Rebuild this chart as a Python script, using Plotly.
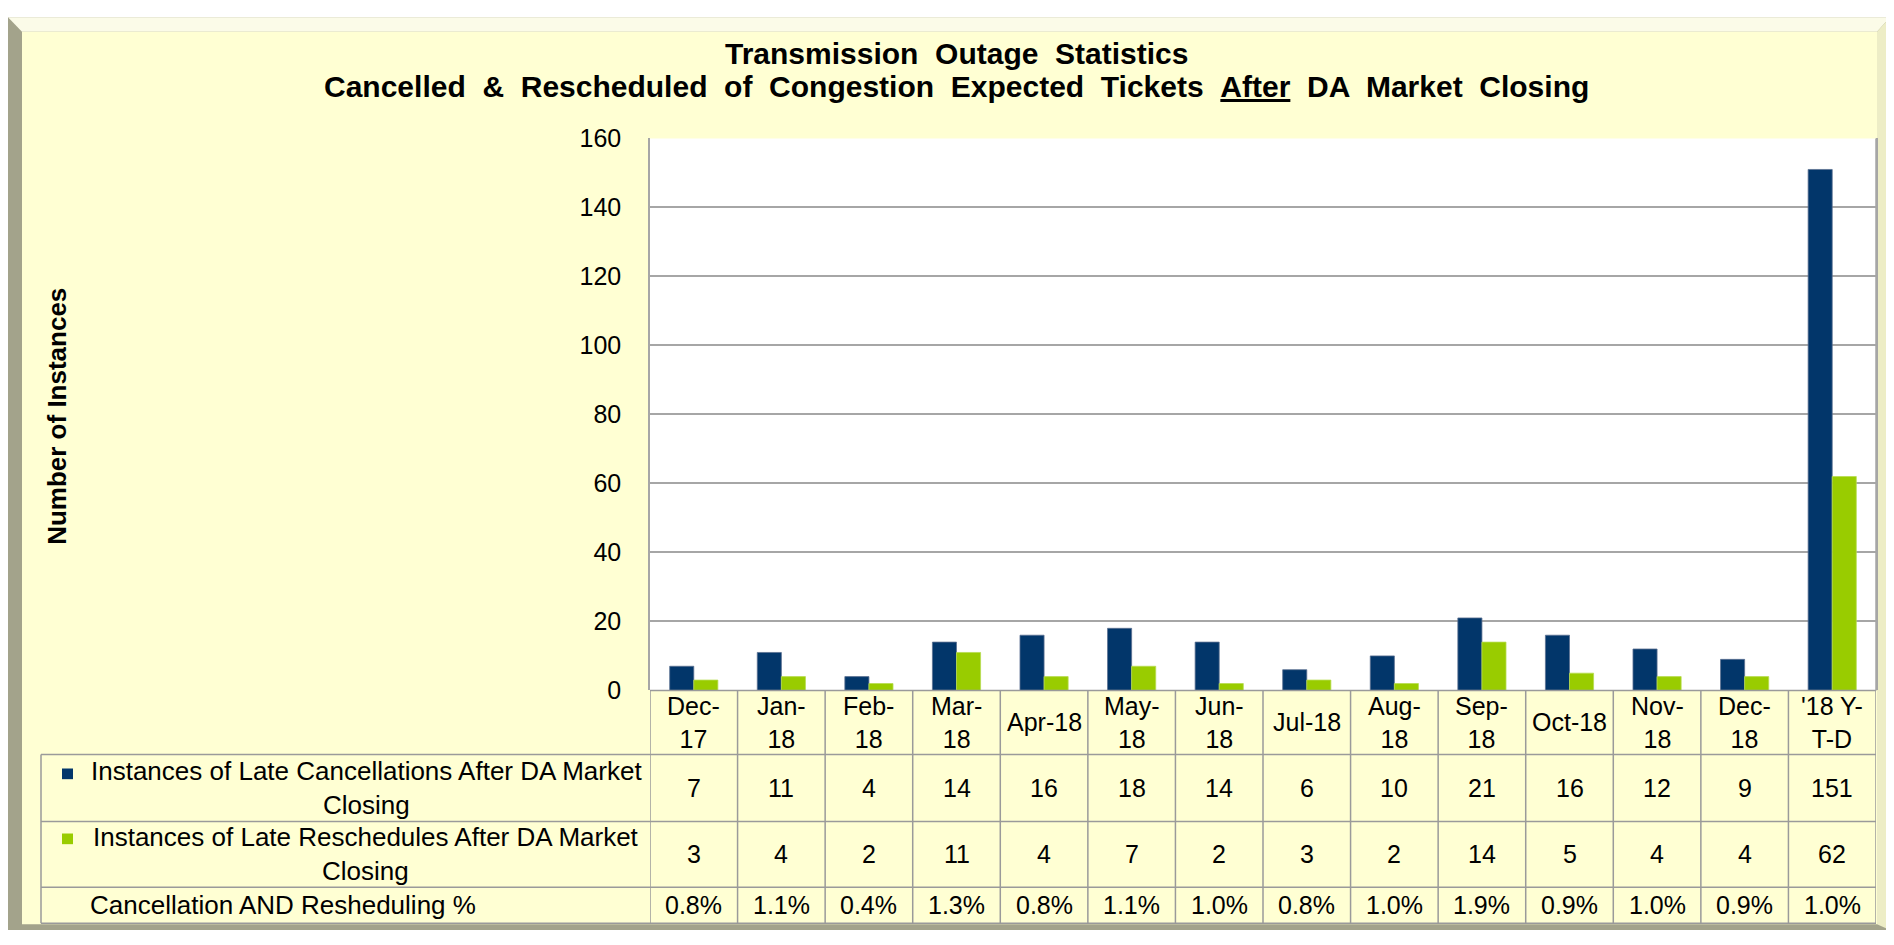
import plotly.graph_objects as go

# ---------------- data ----------------
categories = ["Dec-17", "Jan-18", "Feb-18", "Mar-18", "Apr-18", "May-18", "Jun-18",
              "Jul-18", "Aug-18", "Sep-18", "Oct-18", "Nov-18", "Dec-18", "'18 Y-T-D"]
header_labels = ["Dec-<br>17", "Jan-<br>18", "Feb-<br>18", "Mar-<br>18", "Apr-18", "May-<br>18",
                 "Jun-<br>18", "Jul-18", "Aug-<br>18", "Sep-<br>18", "Oct-18", "Nov-<br>18",
                 "Dec-<br>18", "'18 Y-<br>T-D"]
cancellations = [7, 11, 4, 14, 16, 18, 14, 6, 10, 21, 16, 12, 9, 151]
reschedules = [3, 4, 2, 11, 4, 7, 2, 3, 2, 14, 5, 4, 4, 62]
pct_labels = ["0.8%", "1.1%", "0.4%", "1.3%", "0.8%", "1.1%", "1.0%",
              "0.8%", "1.0%", "1.9%", "0.9%", "1.0%", "0.9%", "1.0%"]
series_names = ["Instances of Late Cancellations After DA Market Closing",
                "Instances of Late Reschedules After DA Market Closing"]
series_labels = ["Instances of Late Cancellations After DA Market<br>Closing",
                 "Instances of Late Reschedules After DA Market<br>Closing"]
pct_row_label = "Cancellation AND Resheduling %"
title_line1 = "Transmission Outage Statistics"
title_line2 = "Cancelled & Rescheduled of Congestion Expected Tickets After DA Market Closing"
y_title = "Number of Instances"

# ---------------- style ----------------
OFF = 8                      # page body margin of the html page
W, H = 1894 - OFF, 945 - OFF
FONT = "Liberation Sans, Arial, sans-serif"
NAVY = "#02366A"
GREEN = "#99CC00"
BEIGE = "#FFFFD3"
GRID = "#A6A6A6"
TLINE = "#9A9A9A"
FS = 25


def px(x):
    return (x - OFF) / W


def py(y):
    return 1 - (y - OFF) / H


def wide(s):
    # Excel renders the title with generous word spacing
    return s.replace(" ", " &nbsp;")


PL, PR, PT, PB = 650, 1876, 128, 697
ROW_Y = [697, 763, 832, 900, 937]
TABLE_LEFT = 41

fig = go.Figure()
fig.add_trace(go.Bar(x=categories, y=cancellations, name=series_names[0],
                     marker=dict(color=NAVY, line=dict(color="#5A7090", width=0.8))))
fig.add_trace(go.Bar(x=categories, y=reschedules, name=series_names[1],
                     marker=dict(color=GREEN, line=dict(color="#B8DC50", width=0.8))))


def path(pts):
    return "M " + " L ".join(f"{px(x)},{py(y)}" for x, y in pts) + " Z"


shapes = []
# frame (bevelled)
shapes.append(dict(type="rect", xref="paper", yref="paper", x0=px(8), x1=px(1890), y0=py(944), y1=py(3),
                   fillcolor="#A3A38B", line=dict(width=0), layer="below"))
shapes.append(dict(type="path", xref="paper", yref="paper",
                   path=path([(8, 3), (1890, 3), (1877, 18), (22, 18)]),
                   fillcolor="#FBFBE8", line=dict(width=0), layer="below"))
shapes.append(dict(type="path", xref="paper", yref="paper",
                   path=path([(1890, 3), (1890, 944), (1877, 938), (1877, 18)]),
                   fillcolor="#EDEDC6", line=dict(width=0), layer="below"))
shapes.append(dict(type="rect", xref="paper", yref="paper", x0=px(22), x1=px(1877), y0=py(938), y1=py(18),
                   fillcolor=BEIGE, line=dict(width=0), layer="below"))
# plot area white
shapes.append(dict(type="rect", xref="paper", yref="paper", x0=px(PL), x1=px(PR), y0=py(PB), y1=py(PT),
                   fillcolor="white", line=dict(width=0), layer="below"))

# table horizontal lines
for yy in ROW_Y[1:]:
    shapes.append(dict(type="line", xref="paper", yref="paper", x0=px(TABLE_LEFT), x1=px(PR),
                       y0=py(yy), y1=py(yy), line=dict(color=TLINE, width=1.5)))
shapes.append(dict(type="line", xref="paper", yref="paper", x0=px(PL), x1=px(PR),
                   y0=py(PB), y1=py(PB), line=dict(color=TLINE, width=1.5)))
# table left border
shapes.append(dict(type="line", xref="paper", yref="paper", x0=px(TABLE_LEFT), x1=px(TABLE_LEFT),
                   y0=py(ROW_Y[1]), y1=py(ROW_Y[-1]), line=dict(color=TLINE, width=1.5)))
# category column lines
for i in range(len(categories) + 1):
    shapes.append(dict(type="line", xref="x", yref="paper", x0=i - 0.5, x1=i - 0.5,
                       y0=py(ROW_Y[0]), y1=py(ROW_Y[-1]), line=dict(color=TLINE, width=1.5)))
# plot right border
shapes.append(dict(type="line", xref="paper", yref="paper", x0=px(PR), x1=px(PR), y0=py(PB), y1=py(PT),
                   line=dict(color=GRID, width=1.5)))
# legend keys
for color, yy in [(NAVY, 783), (GREEN, 850)]:
    shapes.append(dict(type="rect", xref="paper", yref="paper", x0=px(62), x1=px(73),
                       y0=py(yy + 5.5), y1=py(yy - 5.5), fillcolor=color, line=dict(width=0)))

annotations = []
title2 = wide(title_line2.replace("&", "&amp;")).replace("After", "<u>After</u>")
for txt, yy in [(wide(title_line1), 40), (title2, 74)]:
    annotations.append(dict(text=f"<b>{txt}</b>", xref="paper", yref="paper", x=px(957), y=py(yy),
                            xanchor="center", yanchor="middle", showarrow=False,
                            font=dict(family=FONT, size=30, color="black")))
annotations.append(dict(text=f"<b>{y_title}</b>", xref="paper", yref="paper", x=px(57), y=py(415),
                        xanchor="center", yanchor="middle", showarrow=False, textangle=-90,
                        font=dict(family=FONT, size=26, color="black")))
row_centers = [(ROW_Y[k] + ROW_Y[k + 1]) / 2 for k in range(4)]
for i, c in enumerate(categories):
    for r, txt in enumerate([header_labels[i], str(cancellations[i]), str(reschedules[i]), pct_labels[i]]):
        annotations.append(dict(text=txt, x=c, xref="x", yref="paper", y=py(row_centers[r]),
                                showarrow=False, xanchor="center", yanchor="middle",
                                font=dict(family=FONT, size=FS, color="black")))
for k in range(2):
    annotations.append(dict(text=series_labels[k], xref="paper", yref="paper", x=px(366),
                            y=py(row_centers[k + 1]), showarrow=False, xanchor="center",
                            yanchor="middle", align="center",
                            font=dict(family=FONT, size=26, color="black")))
annotations.append(dict(text=pct_row_label, xref="paper", yref="paper", x=px(88),
                        y=py(row_centers[3]), showarrow=False, xanchor="left", yanchor="middle",
                        font=dict(family=FONT, size=26, color="black")))

fig.update_layout(
    width=W, height=H,
    margin=dict(l=0, r=0, t=0, b=0),
    paper_bgcolor="white",
    plot_bgcolor="rgba(0,0,0,0)",
    barmode="group", bargap=0.45, bargroupgap=0,
    showlegend=False,
    shapes=shapes,
    annotations=annotations,
    font=dict(family=FONT, size=FS, color="black"),
    xaxis=dict(domain=[px(PL), px(PR)], showticklabels=False, showgrid=False,
               showline=False, zeroline=False, ticks="", range=[-0.5, len(categories) - 0.5]),
    yaxis=dict(domain=[py(PB), py(PT)], range=[0, 160], dtick=20, showgrid=True,
               gridcolor=GRID, gridwidth=1.5, zeroline=False, showline=True, mirror=True,
               linecolor=GRID, linewidth=1.5, ticks="", ticklabelstandoff=22,
               tickfont=dict(family=FONT, size=FS, color="black")),
)

fig.write_html("out.html")
